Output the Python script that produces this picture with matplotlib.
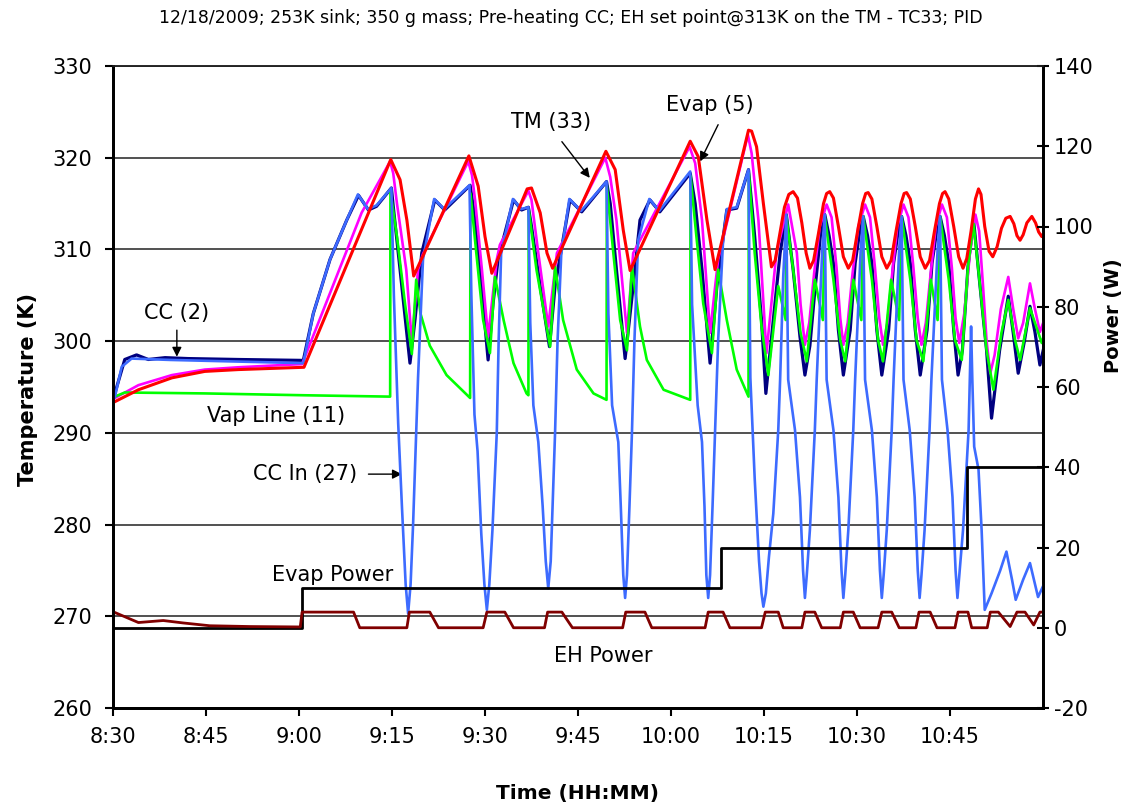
import matplotlib
matplotlib.use("Agg")
import matplotlib.pyplot as plt

plt.rcParams['font.family'] = ['DejaVu Sans']
plt.rcParams['axes.unicode_minus'] = False

# time axis: minutes after 8:30
tick_minutes = [0, 15, 30, 45, 60, 75, 90, 105, 120, 135]
tick_labels = ["8:30", "8:45", "9:00", "9:15", "9:30", "9:45", "10:00", "10:15", "10:30", "10:45"]

# TM (33) - red
red_t = [0.3, 4.1, 9.5, 14.8, 20.2, 30.8, 44.8, 46.3, 47.4, 48.5, 57.4, 58.9, 60.0, 61.1,
         66.8, 67.5, 68.9, 70.0, 70.9, 79.5, 81.0, 82.3, 83.4, 93.1, 94.4, 95.8, 97.1,
         102.5, 103.0, 103.8, 104.9, 106.2, 106.8, 107.5, 108.3, 109.0, 109.7, 110.4, 111.1,
         111.8, 112.4, 113.0, 113.8, 114.6, 115.1, 115.6, 116.2, 117.0, 117.8, 118.6, 119.3,
         120.1, 120.9, 121.4, 121.8, 122.4, 123.2, 124.0, 124.8, 125.5, 126.3, 127.1, 127.6,
         128.0, 128.6, 129.4, 130.2, 131.0, 131.7, 132.5, 133.3, 133.8, 134.2, 134.8, 135.6,
         136.4, 137.1, 137.7, 138.4, 139.1, 139.6, 140.0, 140.6, 141.3, 141.9, 142.6, 143.3,
         144.0, 144.7, 145.3, 145.8, 146.3, 146.8, 147.4, 148.2, 148.8, 149.3, 149.8, 150.3]
red_T = [293.4, 294.7, 296.0, 296.7, 296.9, 297.15, 319.8, 317.6, 313.2, 307.1, 320.2, 316.9, 311.4, 307.4,
         316.6, 316.7, 314.0, 309.6, 307.95, 320.7, 318.7, 312.1, 307.7, 321.8, 320.1, 313.2, 307.8,
         323.0, 322.9, 321.2, 315.0, 308.1, 308.8, 311.5, 314.6, 316.0, 316.3, 315.6, 312.9,
         309.6, 307.95, 308.8, 311.8, 315.0, 316.1, 316.3, 315.6, 312.5, 309.2, 307.95, 308.8,
         312.0, 315.0, 316.1, 316.2, 315.5, 312.5, 309.2, 307.95, 308.8, 312.0, 315.0, 316.1,
         316.2, 315.5, 312.5, 309.2, 307.95, 308.8, 312.0, 315.0, 316.1, 316.3, 315.5, 312.5,
         309.2, 307.95, 309.0, 312.0, 315.5, 316.6, 316.0, 312.5, 309.8, 309.2, 310.3, 312.3,
         313.4, 313.6, 312.8, 311.5, 311.0, 311.6, 312.9, 313.6, 312.9, 311.9, 311.4, 312.0]

# Evap (5) - magenta
mag_t = [0.3, 4.1, 9.5, 14.8, 20.2, 30.5, 40.1, 44.7, 45.2, 45.8, 47.3, 48.2, 49.2, 50.0, 57.3,
         57.9, 58.4, 59.5, 60.5, 61.9, 62.4, 67.0, 67.5, 68.6, 70.2, 71.6, 79.4, 80.2, 81.2,
         82.9, 83.9, 93.0, 93.9, 95.0, 96.3, 97.6, 102.4, 103.0, 104.1, 105.4, 107.0, 108.9,
         110.3, 110.9, 111.6, 112.3, 113.1, 114.0, 115.1, 115.9, 116.7, 117.3, 117.8, 118.5,
         119.3, 120.2, 121.3, 122.1, 122.9, 123.6, 124.2, 124.9, 125.7, 126.5, 127.5, 128.3,
         129.1, 129.8, 130.4, 131.1, 131.9, 132.7, 133.7, 134.5, 135.3, 135.9, 136.5, 137.3,
         138.2, 139.1, 139.7, 140.3, 140.9, 141.5, 142.2, 143.2, 144.4, 145.2, 146.0, 146.8,
         147.9, 148.7, 149.5, 150.3]
mag_T = [293.8, 295.2, 296.3, 296.9, 297.15, 297.5, 314.0, 319.6, 318.3, 315.0, 307.8, 299.9, 307.8, 309.5, 319.6,
         318.1, 315.4, 307.8, 300.5, 308.9, 310.5, 316.4, 315.4, 309.6, 301.6, 309.6, 320.0, 317.9, 313.2,
         300.9, 309.6, 321.2, 319.4, 313.2, 300.9, 308.9, 322.5, 320.5, 313.2, 298.7, 309.6, 314.9,
         309.6, 304.0, 299.6, 302.0, 307.5, 312.5, 314.9, 313.5, 308.0, 302.5, 299.6, 302.0,
         307.5, 312.5, 314.9, 313.5, 308.0, 302.5, 299.6, 302.0, 307.5, 312.5, 314.9, 313.5,
         308.0, 302.5, 299.6, 302.0, 307.5, 312.5, 314.9, 313.5, 308.0, 302.5, 299.8, 303.0,
         309.5, 313.8, 312.0, 306.3, 300.0, 296.5, 298.5, 303.5, 307.0, 303.5, 300.3, 302.0,
         306.3, 303.5, 301.0, 302.5]

# CC (2) - navy
cc_t = [0.3, 1.9, 3.8, 5.7, 8.4, 12.1, 20.2, 30.7, 32.3, 35.0, 37.7, 39.6, 41.2, 42.5, 44.9,
        45.2, 46.3, 47.9, 48.7, 49.8, 51.9, 53.5, 57.6, 58.1, 59.2, 60.5, 61.3, 62.1, 64.6,
        65.9, 67.0, 67.5, 68.9, 70.4, 71.3, 73.7, 75.6, 79.6, 80.2, 81.2, 82.6, 83.9, 85.0,
        86.6, 88.2, 93.1, 93.9, 95.0, 96.3, 97.4, 99.0, 100.6, 102.5, 103.5, 104.6, 105.3,
        106.5, 107.6, 108.6, 109.7, 110.8, 111.6, 112.4, 113.2, 114.1, 114.8, 115.5, 116.2,
        117.0, 117.8, 118.9, 119.7, 120.4, 121.0, 121.7, 122.4, 123.2, 124.0, 125.1, 125.9,
        126.6, 127.2, 127.9, 128.6, 129.4, 130.2, 131.3, 132.1, 132.8, 133.4, 134.1, 134.8,
        135.6, 136.3, 137.0, 137.9, 138.8, 139.8, 140.9, 141.7, 143.0, 144.4, 145.2, 146.0,
        147.0, 147.9, 148.7, 149.5, 150.3]
cc_T = [294.3, 298.0, 298.5, 298.0, 298.2, 298.1, 298.0, 297.9, 303.0, 308.9, 313.2, 315.9, 314.3, 314.7, 316.7,
        314.7, 307.8, 297.6, 302.3, 309.6, 315.4, 314.3, 317.0, 314.7, 307.8, 297.95, 304.1, 308.9, 315.4,
        314.3, 314.6, 312.5, 306.0, 299.4, 306.0, 315.4, 314.1, 317.4, 315.0, 307.8, 298.1, 306.0, 313.2,
        315.4, 314.1, 318.3, 315.0, 307.8, 297.6, 306.0, 314.3, 314.5, 318.7, 311.4, 302.3, 294.3,
        302.3, 309.6, 313.8, 307.8, 300.5, 296.3, 299.5, 305.5, 311.5, 313.8, 311.5, 308.5,
        301.2, 296.3, 301.2, 308.5, 311.8, 313.6, 311.5, 308.5, 301.2, 296.3, 301.2, 308.5,
        311.8, 313.6, 311.5, 308.5, 301.2, 296.3, 301.2, 308.5, 311.8, 313.6, 311.5, 308.5,
        301.2, 296.3, 299.0, 308.1, 313.2, 306.3, 299.0, 291.6, 299.0, 304.9, 300.9, 296.5,
        300.0, 303.8, 301.0, 297.4, 299.8]

# CC In (27) - blue
ccin_t = [0.3, 1.4, 3.0, 9.3, 30.7, 32.3, 35.0, 37.7, 39.5, 41.1, 42.5, 44.9,
          45.3, 46.0, 46.6, 47.2, 47.6, 48.0, 48.4, 48.7, 49.2, 50.0, 51.8, 53.4, 57.5,
          57.8, 58.3, 58.8, 59.4, 59.9, 60.3, 60.7, 61.2, 61.9, 62.2, 62.6, 64.5, 65.8, 67.0,
          67.3, 67.8, 68.6, 69.3, 69.8, 70.2, 70.6, 71.0, 71.3, 71.7, 72.3, 73.6, 75.5, 79.6,
          79.9, 80.5, 81.5, 81.9, 82.3, 82.6, 82.9, 83.3, 83.7, 84.1, 84.7, 86.5, 88.1, 93.1,
          93.4, 94.3, 95.0, 95.4, 95.7, 96.0, 96.3, 96.7, 97.1, 97.6, 98.4, 99.0, 100.6, 102.5,
          102.8, 103.5, 104.2, 104.6, 104.9, 105.3, 105.8, 106.5, 107.3, 107.6, 108.1, 108.6,
          108.9, 110.0, 110.8, 111.3, 111.6, 111.9, 112.4, 113.2, 113.5, 114.4, 114.8,
          115.1, 116.2, 117.0, 117.5, 117.8, 118.1, 118.6, 119.4, 119.7, 120.6, 121.0,
          121.3, 122.4, 123.2, 123.7, 124.0, 124.3, 124.8, 125.6, 125.9, 126.8, 127.2,
          127.5, 128.5, 129.3, 129.8, 130.1, 130.4, 130.9, 131.7, 132.0, 133.0, 133.4,
          133.7, 134.6, 135.4, 135.9, 136.2, 136.5, 137.1, 138.0, 138.4, 138.6, 138.9, 139.6,
          140.1, 140.6, 141.7, 143.1, 144.1, 145.0, 145.6, 146.8, 147.9, 149.2, 150.5]
ccin_T = [293.9, 297.2, 298.1, 297.95, 297.6, 303.0, 308.9, 313.2, 316.0, 314.4, 314.8, 316.7,
          305.0, 291.0, 282.0, 273.5, 270.3, 273.5, 280.0, 286.0, 296.0, 308.9, 315.5, 314.4, 317.0,
          305.0, 292.0, 288.0, 279.0, 273.5, 270.7, 273.5, 279.4, 290.0, 300.0, 309.5, 315.5, 314.4, 314.6,
          302.0, 293.0, 289.0, 282.0, 276.0, 273.05, 276.0, 284.0, 290.0, 300.0, 309.5, 315.5, 314.2, 317.4,
          303.0, 293.0, 289.0, 282.0, 274.5, 272.0, 274.5, 282.0, 290.0, 300.0, 311.0, 315.5, 314.2, 318.5,
          304.0, 293.0, 289.0, 282.0, 274.5, 272.0, 274.5, 282.0, 290.0, 300.0, 311.0, 314.4, 314.6, 318.7,
          296.0, 285.0, 276.0, 272.5, 271.05, 272.5, 276.5, 281.2, 290.3, 295.8, 307.0, 313.8,
          295.8, 290.3, 283.0, 275.0, 272.0, 274.5, 279.4, 290.3, 295.8, 310.0, 313.8,
          295.8, 290.3, 283.0, 275.0, 272.0, 274.5, 279.4, 290.3, 295.8, 310.0, 313.6,
          295.8, 290.3, 283.0, 275.0, 272.0, 274.5, 279.4, 290.3, 295.8, 310.0, 313.6,
          295.8, 290.3, 283.0, 275.0, 272.0, 274.5, 279.4, 290.3, 295.8, 310.0, 313.6,
          295.8, 290.3, 283.0, 275.0, 272.0, 274.5, 279.4, 290.3, 301.6, 295.8, 288.5, 286.0,
          279.4, 270.7, 272.5, 275.0, 277.05, 274.0, 271.8, 274.0, 275.8, 272.1, 274.0]

# Vap Line (11) - green
vap_t = [0.3, 1.9, 14.8, 30.8, 44.7, 44.75, 45.8, 47.1, 48.2, 48.9, 49.6, 51.1, 53.8, 57.0, 57.6,
         57.65, 58.6, 59.7, 60.8, 61.6, 63.0, 64.6, 66.7, 67.0, 67.05, 68.3, 70.5, 71.3, 72.6,
         74.8, 77.5, 79.6, 79.65, 80.7, 81.8, 82.9, 83.7, 85.0, 86.1, 88.8, 93.1, 93.15, 94.1,
         95.2, 96.6, 97.6, 99.0, 100.6, 102.5, 102.55, 103.5, 104.6, 105.7, 107.3, 108.5, 108.6,
         109.7, 110.9, 111.9, 113.2, 114.5, 114.8, 116.2, 117.3, 118.1, 119.4, 120.7, 121.0,
         122.4, 123.4, 124.2, 125.5, 126.8, 127.2, 128.6, 129.6, 130.7, 131.9, 133.0, 133.4,
         134.8, 135.8, 136.9, 137.9, 138.8, 139.8, 140.9, 142.0, 143.3, 144.4, 145.5, 146.3,
         147.9, 149.8, 150.3]
vap_T = [293.95, 294.4, 294.3, 294.1, 293.95, 316.3, 311.4, 304.1, 298.6, 306.7, 303.0, 299.5, 296.3, 294.2, 293.8,
         316.1, 309.6, 302.3, 298.7, 307.0, 302.3, 297.6, 294.3, 294.1, 314.3, 307.8, 299.4, 308.1, 302.3,
         296.9, 294.3, 293.6, 316.9, 309.6, 302.3, 299.0, 308.1, 301.6, 297.95, 294.7, 293.6, 318.0, 311.4,
         304.1, 298.7, 307.8, 302.3, 296.9, 293.95, 318.3, 309.6, 301.6, 296.3, 306.0, 302.3, 313.6,
         307.8, 300.9, 297.8, 306.7, 302.3, 313.6, 306.7, 300.1, 297.8, 306.7, 302.3, 313.6,
         306.7, 300.1, 297.8, 306.7, 302.3, 313.6, 306.7, 300.1, 297.8, 306.7, 302.3, 313.6,
         306.7, 300.1, 297.95, 308.1, 312.8, 306.3, 299.0, 294.7, 300.9, 304.5, 300.1, 297.95,
         303.6, 299.8, 300.9]

# Evap Power (W) - black, right axis
evap_pw_t = [0, 30.5, 30.5, 98.0, 98.0, 137.7, 137.7, 150]
evap_pw_W = [0, 0, 10, 10, 20, 20, 40, 40]

# EH Power (W) - dark red, right axis
eh_t = [0.0, 4.1, 8.1, 11.3, 15.6, 22.1, 30.2, 30.5, 38.8, 39.8, 47.4, 47.8, 51.1, 52.5,
        59.7, 60.3, 63.2, 64.6, 69.6, 70.1, 72.4, 74.1, 82.2, 82.7, 85.8, 86.9, 95.5, 96.0,
        98.4, 99.5, 104.6, 105.2, 107.3, 108.1, 111.1, 111.6, 113.2, 114.3, 117.3, 117.8,
        119.4, 120.5, 123.4, 124.0, 125.6, 126.8, 129.5, 130.0, 131.8, 132.9, 135.8, 136.3,
        137.9, 138.5, 141.0, 141.5, 142.8, 144.7, 145.8, 147.1, 148.5, 149.5, 150.0]
eh_W = [4.0, 1.3, 1.8, 1.2, 0.5, 0.3, 0.2, 3.9, 3.9, 0.0, 0.0, 3.9, 3.9, 0.0,
        0.0, 3.9, 3.9, 0.0, 0.0, 3.9, 3.9, 0.0, 0.0, 3.9, 3.9, 0.0, 0.0, 3.9,
        3.9, 0.0, 0.0, 3.9, 3.9, 0.0, 0.0, 3.9, 3.9, 0.0, 0.0, 3.9,
        3.9, 0.0, 0.0, 3.9, 3.9, 0.0, 0.0, 3.9, 3.9, 0.0, 0.0, 3.9,
        3.9, 0.0, 0.0, 3.9, 3.9, 0.3, 3.9, 3.9, 0.7, 3.9, 3.9]

title = "12/18/2009; 253K sink; 350 g mass; Pre-heating CC; EH set point@313K on the TM - TC33; PID"

W, H = 1142, 807
fig = plt.figure(figsize=(W / 100, H / 100), dpi=100)
ax = fig.add_axes([113 / W, 1 - 708 / H, 930 / W, 642 / H])
ax2 = ax.twinx()

# temperature curves
ax.plot(cc_t, cc_T, color='#000080', lw=2.3, zorder=3)
ax.plot(mag_t, mag_T, color='#FF00FF', lw=1.9, zorder=3)
ax.plot(vap_t, vap_T, color='#00FF00', lw=1.9, zorder=4)
ax.plot(ccin_t, ccin_T, color='#3D6BFF', lw=1.9, zorder=5)
ax.plot(red_t, red_T, color='#FF0000', lw=2.2, zorder=6)

# power curves
ax2.plot(evap_pw_t, evap_pw_W, color='black', lw=2.0)
ax2.plot(eh_t, eh_W, color='#800000', lw=2.0)

ax.set_xlim(0, 150)
ax.set_ylim(260, 330)
ax.set_yticks(range(260, 331, 10))
ax.set_xticks(tick_minutes, tick_labels)
ax.grid(axis='y', color='#222222', lw=1.1)
ax.set_axisbelow(True)
ax2.set_ylim(-20, 140)
ax2.set_yticks(range(-20, 141, 20))

for a in (ax, ax2):
    a.spines['top'].set_color('#222222')
    a.spines['top'].set_linewidth(1.1)
    a.spines['left'].set_linewidth(2)
    a.spines['bottom'].set_linewidth(2)
    a.spines['right'].set_linewidth(2)

ax.tick_params(axis='both', labelsize=15, width=1.5, length=6, direction='out')
ax.tick_params(axis='y', pad=9)
ax.tick_params(axis='x', pad=8)
ax2.tick_params(axis='y', labelsize=15, width=1.5, length=9, direction='inout')

fig.text(0.5, 1 - 18 / H, title, ha='center', va='center', fontsize=12.5)
fig.text(28 / W, 1 - 390 / H, "Temperature (K)", rotation=90, ha='center', va='center',
         fontsize=15, fontweight='bold')
fig.text(1113 / W, 1 - 316 / H, "Power (W)", rotation=90, ha='center', va='center',
         fontsize=14, fontweight='bold')
fig.text(578 / W, 1 - 793 / H, "Time (HH:MM)", ha='center', va='center',
         fontsize=14.5, fontweight='bold')

# labels on the curves
arrow = dict(arrowstyle='-|>', color='black', lw=1.0, mutation_scale=14, shrinkA=0, shrinkB=0)
ax.text(10.2, 303.1, "CC (2)", ha='center', va='center', fontsize=15)
ax.annotate("", xy=(10.3, 298.3), xytext=(10.3, 301.2), arrowprops=arrow)
ax.text(26.3, 291.8, "Vap Line (11)", ha='center', va='center', fontsize=15)
ax.text(31.0, 285.5, "CC In (27)", ha='center', va='center', fontsize=15)
ax.annotate("", xy=(46.6, 285.5), xytext=(41.2, 285.5), arrowprops=arrow)
ax.text(35.5, 274.5, "Evap Power", ha='center', va='center', fontsize=15)
ax.text(79.0, 265.7, "EH Power", ha='center', va='center', fontsize=15)
ax.text(70.6, 323.85, "TM (33)", ha='center', va='center', fontsize=15)
ax.annotate("", xy=(76.9, 317.8), xytext=(72.4, 321.75), arrowprops=arrow)
ax.text(96.3, 325.8, "Evap (5)", ha='center', va='center', fontsize=15)
ax.annotate("", xy=(94.7, 319.6), xytext=(97.6, 323.6), arrowprops=arrow)

fig.savefig("out.png", dpi=100)
